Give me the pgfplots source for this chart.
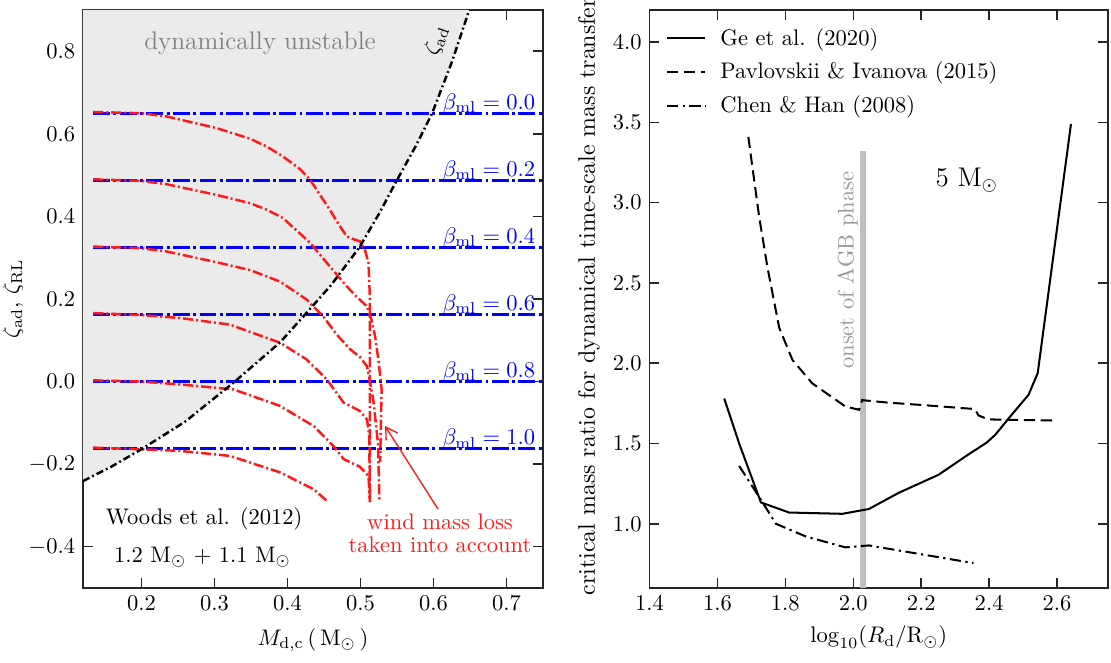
\documentclass[border=0pt]{standalone}
\usepackage{pgfplots}
\pgfplotsset{compat=1.18}
\usetikzlibrary{arrows.meta}
\begin{document}
\begin{tikzpicture}
\pgfplotsset{
  every axis/.append style={
    scale only axis,
    tick align=inside,
    major tick length=4.4pt,
    axis line style={line width=0.8pt, black!85},
    every tick/.style={line width=0.7pt, black!85},
    xticklabel style={/pgf/number format/fixed,/pgf/number format/fixed zerofill,/pgf/number format/precision=1},
    yticklabel style={/pgf/number format/fixed,/pgf/number format/fixed zerofill,/pgf/number format/precision=1},
    clip=true,
  },
  redc/.style={red!90, line width=1.1pt, dash pattern=on 4.5pt off 1.3pt on 0.9pt off 1.3pt},
  bluec/.style={blue, line width=1.3pt, dash pattern=on 7.5pt off 1.5pt on 1.3pt off 1.5pt},
}
% ---------------- left panel ----------------
\begin{axis}[
  at={(36.85pt,32.86pt)}, anchor=south west,
  width=204.24pt, height=256.63pt,
  xmin=0.12, xmax=0.75, ymin=-0.5, ymax=0.9,
  xtick={0.2,0.3,0.4,0.5,0.6,0.7},
  ytick={-0.4,-0.2,0,0.2,0.4,0.6,0.8},
  xlabel={$M_\mathrm{d,c}\,(\,\mathrm{M}_\odot\,)$},
  ylabel={$\zeta_\mathrm{ad}$, $\zeta_\mathrm{RL}$},
  xlabel style={at={(axis description cs:0.5,-0.09)}, anchor=center},
  ylabel style={at={(axis description cs:-0.152,0.5)}, anchor=center},
]
\addplot[fill=black!8, draw=none] coordinates {
 (0.12,-0.241) (0.16,-0.205) (0.2,-0.164) (0.26,-0.097) (0.328,0.0) (0.39,0.095) (0.424,0.162)
 (0.46,0.234) (0.4985,0.325) (0.525,0.405) (0.5497,0.487) (0.575,0.568) (0.598,0.649)
 (0.625,0.773) (0.649,0.9) (0.12,0.9)} -- cycle;
\addplot[bluec] coordinates {(0.134,0.649) (0.75,0.649)};
\addplot[bluec] coordinates {(0.134,0.487) (0.75,0.487)};
\addplot[bluec] coordinates {(0.134,0.325) (0.75,0.325)};
\addplot[bluec] coordinates {(0.134,0.162) (0.75,0.162)};
\addplot[bluec] coordinates {(0.134,0.0) (0.75,0.0)};
\addplot[bluec] coordinates {(0.134,-0.163) (0.75,-0.163)};
% red curves
\addplot[redc] coordinates {(0.134,0.653) (0.2,0.650) (0.2346,0.642) (0.303,0.614) (0.349,0.588) (0.372,0.569) (0.394,0.545) (0.417,0.515) (0.431,0.489) (0.458,0.416) (0.472,0.376) (0.481,0.352) (0.490,0.345) (0.499,0.340) (0.506,0.320) (0.511,0.287) (0.513,0.2) (0.513,0.0) (0.513,-0.292)};
\addplot[redc] coordinates {(0.134,0.490) (0.2,0.486) (0.2346,0.478) (0.303,0.452) (0.349,0.432) (0.372,0.416) (0.394,0.396) (0.431,0.336) (0.458,0.279) (0.481,0.231) (0.495,0.205) (0.509,0.182) (0.515,0.150) (0.52,0.11) (0.5245,0.054) (0.529,-0.019) (0.528,-0.10) (0.527,-0.195)};
\addplot[redc] coordinates {(0.134,0.327) (0.2,0.323) (0.2346,0.315) (0.303,0.289) (0.349,0.27) (0.39,0.242) (0.426,0.199) (0.449,0.158) (0.467,0.115) (0.486,0.078) (0.499,0.060) (0.509,0.037) (0.513,0.0) (0.518,-0.05) (0.524,-0.15) (0.526,-0.289)};
\addplot[redc] coordinates {(0.134,0.166) (0.2,0.161) (0.253,0.154) (0.321,0.138) (0.39,0.094) (0.426,0.054) (0.454,0.005) (0.477,-0.051) (0.499,-0.071) (0.509,-0.092) (0.512,-0.13) (0.513,-0.292)};
\addplot[redc] coordinates {(0.134,0.003) (0.2,0.0) (0.253,-0.007) (0.326,-0.019) (0.39,-0.059) (0.436,-0.108) (0.463,-0.156) (0.477,-0.188) (0.499,-0.206) (0.511,-0.229) (0.513,-0.292)};
\addplot[redc] coordinates {(0.134,-0.160) (0.2,-0.164) (0.253,-0.168) (0.321,-0.18) (0.39,-0.22) (0.436,-0.261) (0.454,-0.289)};
% zeta_ad
\addplot[black, line width=1.1pt, dash pattern=on 3.2pt off 1.4pt on 0.8pt off 1.4pt] coordinates {
 (0.12,-0.241) (0.16,-0.205) (0.2,-0.164) (0.26,-0.097) (0.328,0.0) (0.39,0.095) (0.424,0.162)
 (0.46,0.234) (0.4985,0.325) (0.525,0.405) (0.5497,0.487) (0.575,0.568) (0.598,0.649)
 (0.625,0.773) (0.649,0.9)};
\node[black!50, font=\fontsize{11.3}{13}\selectfont] at (axis cs:0.3625,0.82) {dynamically unstable};
\node[rotate=70, inner sep=0pt] at (axis cs:0.604,0.827) {$\zeta_\mathrm{ad}$};
\node[blue, anchor=base east, inner sep=0pt] at (axis cs:0.74,0.659) {$\beta_\mathrm{ml} = 0.0$};
\node[blue, anchor=base east, inner sep=0pt] at (axis cs:0.74,0.497) {$\beta_\mathrm{ml} = 0.2$};
\node[blue, anchor=base east, inner sep=0pt] at (axis cs:0.74,0.335) {$\beta_\mathrm{ml} = 0.4$};
\node[blue, anchor=base east, inner sep=0pt] at (axis cs:0.74,0.172) {$\beta_\mathrm{ml} = 0.6$};
\node[blue, anchor=base east, inner sep=0pt] at (axis cs:0.74,0.010) {$\beta_\mathrm{ml} = 0.8$};
\node[blue, anchor=base east, inner sep=0pt] at (axis cs:0.74,-0.153) {$\beta_\mathrm{ml} = 1.0$};
\node at (axis cs:0.2858,-0.3334) {Woods et al. (2012)};
\node at (axis cs:0.2837,-0.425) {1.2 M$_\odot$ + 1.1 M$_\odot$};
\node[red!90, align=center] at (axis cs:0.609,-0.367) {wind mass loss\\[-2pt]taken into account};
\draw[red!90, line width=0.6pt, -{Straight Barb[length=5pt,width=6pt]}] (axis cs:0.6063,-0.309) -- (axis cs:0.5337,-0.1077);
\end{axis}
% ---------------- right panel ----------------
\begin{axis}[
  at={(288.38pt,32.86pt)}, anchor=south west,
  width=203.57pt, height=256.63pt,
  xmin=1.4, xmax=2.75, ymin=0.6, ymax=4.2,
  xtick={1.4,1.6,1.8,2.0,2.2,2.4,2.6},
  ytick={1.0,1.5,2.0,2.5,3.0,3.5,4.0},
  xlabel={$\log_{10}(R_\mathrm{d}/\mathrm{R}_\odot)$},
  ylabel={critical mass ratio for dynamical time-scale mass transfer},
  xlabel style={at={(axis description cs:0.5,-0.085)}, anchor=center},
  ylabel style={at={(axis description cs:-0.132,0.504)}, anchor=center, font=\fontsize{10.6}{12}\selectfont},
  legend style={at={(axis description cs:0.02,0.985)}, anchor=north west, draw=none, fill=none, row sep=2pt},
  legend cell align=left,
  legend image code/.code={\draw[#1] (0cm,0cm) -- (0.6cm,0cm); \path (0.75cm,0cm);},
]
\addplot[black!25, line width=2.7pt, forget plot] coordinates {(2.028,0.6) (2.028,3.32)};
\addplot[black, line width=0.9pt] coordinates {(1.62,1.78) (1.664,1.50) (1.728,1.133) (1.811,1.07) (1.968,1.062) (2.046,1.092) (2.134,1.193) (2.251,1.305) (2.33,1.419) (2.393,1.506) (2.418,1.554) (2.462,1.668) (2.516,1.803) (2.543,1.938) (2.641,3.49)};
\addlegendentry{Ge et al. (2020)}
\addplot[black, line width=0.9pt, dash pattern=on 5pt off 2.5pt] coordinates {(1.691,3.41) (1.703,3.22) (1.723,2.91) (1.747,2.60) (1.782,2.22) (1.821,2.02) (1.879,1.875) (1.977,1.73) (2.017,1.71) (2.026,1.77) (2.10,1.755) (2.20,1.74) (2.349,1.716) (2.359,1.711) (2.369,1.674) (2.398,1.65) (2.589,1.643)};
\addlegendentry{Pavlovskii \& Ivanova (2015)}
\addplot[black, line width=0.9pt, dash pattern=on 5pt off 2pt on 1pt off 2pt] coordinates {(1.664,1.36) (1.728,1.15) (1.772,1.0) (1.86,0.921) (1.977,0.853) (2.046,0.865) (2.354,0.755)};
\addlegendentry{Chen \& Han (2008)}
\node[black!40, rotate=90] at (axis cs:1.984,2.58) {onset of AGB phase};
\node[font=\large] at (axis cs:2.334,3.142) {5 M$_\odot$};
\end{axis}
\pgfresetboundingbox
\path (0,0) rectangle (493.28pt,293.93pt);
\end{tikzpicture}
\end{document}
